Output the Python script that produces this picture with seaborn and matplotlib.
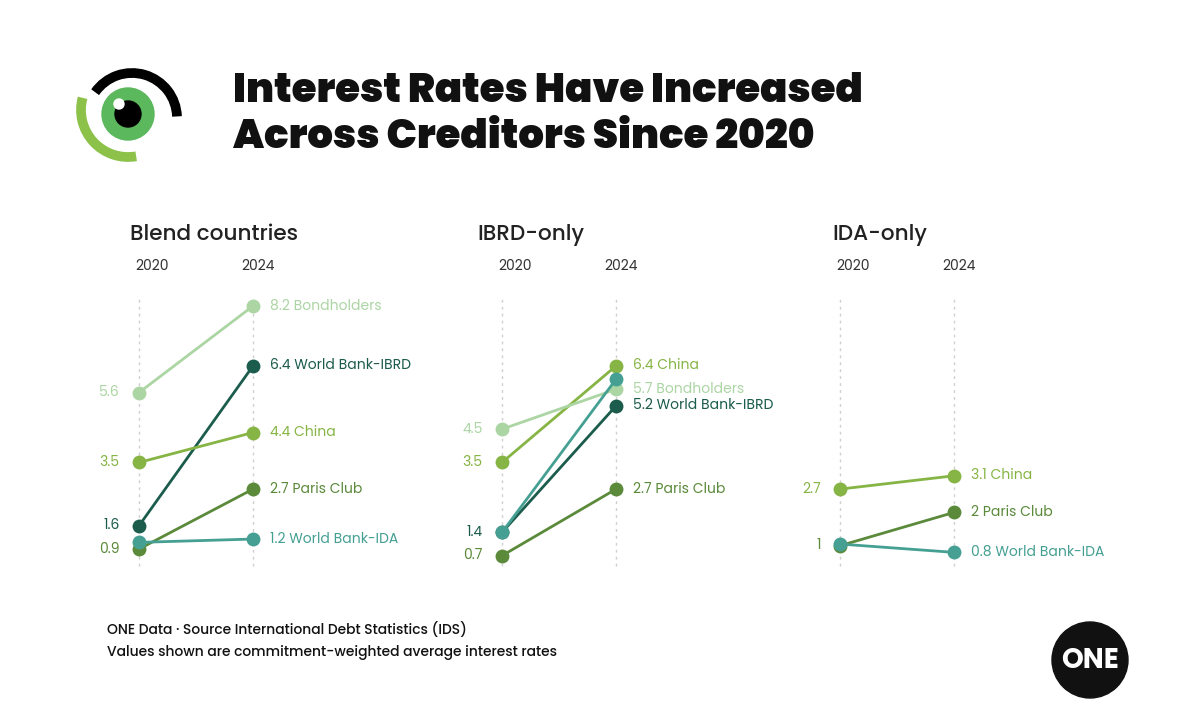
import pandas as pd
import seaborn as sns
import matplotlib.pyplot as plt
from matplotlib.patches import Circle, Arc

# --- Data ---
panels = ["Blend countries", "IBRD-only", "IDA-only"]
years = ["2020", "2024"]

blend_creditors = ["Bondholders", "World Bank-IBRD", "China", "Paris Club", "World Bank-IDA"]
blend_2020 = [5.6, 1.6, 3.5, 0.9, 1.1]
blend_2024 = [8.2, 6.4, 4.4, 2.7, 1.2]

ibrd_creditors = ["China", "Bondholders", "World Bank-IBRD", "Paris Club", "World Bank-IDA"]
ibrd_2020 = [3.5, 4.5, 1.4, 0.7, 1.4]
ibrd_2024 = [6.4, 5.7, 5.2, 2.7, 6.0]

ida_creditors = ["China", "Paris Club", "World Bank-IDA"]
ida_2020 = [2.7, 1.0, 1.05]
ida_2024 = [3.1, 2.0, 0.8]

# which values get a text label (the unlabeled ones are hidden in the original)
blend_show_2020 = [True, True, True, True, False]
ibrd_show_2020 = [True, True, True, True, False]
ibrd_show_2024 = [True, True, True, True, False]
ida_show_2020 = [True, True, False]

colors = {
    "Bondholders": "#acd5a4",
    "World Bank-IBRD": "#1b5c4c",
    "China": "#86b545",
    "Paris Club": "#5b8a3b",
    "World Bank-IDA": "#45a093",
}

panel_data = [
    (blend_creditors, blend_2020, blend_2024, blend_show_2020, [True] * 5),
    (ibrd_creditors, ibrd_2020, ibrd_2024, ibrd_show_2020, ibrd_show_2024),
    (ida_creditors, ida_2020, ida_2024, ida_show_2020, [True] * 3),
]

sns.set_theme(style="white")
plt.rcParams['font.family'] = ['Poppins', 'Lato', 'DejaVu Sans']

W, H = 1200, 723
fig = plt.figure(figsize=(12, 7.23), dpi=100)

def fx(px):
    return px / W

def fy(py):
    return 1 - py / H

x_starts = [139, 502, 840]
title_x = [130, 477, 832]
y_zero, y_top = 579, 306

for (creds, v20, v24, show20, show24), name, xs, tx in zip(panel_data, panels, x_starts, title_x):
    ax = fig.add_axes([fx(xs), fy(y_zero), fx(114), fy(y_top) - fy(y_zero)])
    ax.set_xlim(0, 1)
    ax.set_ylim(0, 8.2)
    ax.axis("off")

    df = pd.DataFrame({
        "creditor": creds * 2,
        "year": [0] * len(creds) + [1] * len(creds),
        "rate": v20 + v24,
    })
    for x in (0, 1):
        ax.plot([x, x], [0.4, 8.4], ls=(0, (2, 3)), color="#cfcfcf", lw=1, clip_on=False, zorder=0)
    sns.lineplot(data=df, x="year", y="rate", hue="creditor", palette=colors,
                 marker="o", markersize=10, markeredgewidth=0, linewidth=2,
                 legend=False, ax=ax, sort=False)
    for line in ax.lines:
        line.set_clip_on(False)

    for c, a, b, s20, s24 in zip(creds, v20, v24, show20, show24):
        col = colors[c]
        if s20:
            ax.text(-0.17, a, f"{a:g}", color=col, fontsize=10, ha="right", va="center", clip_on=False)
        if s24:
            ax.text(1.15, b, f"{b:g} {c}", color=col, fontsize=10, ha="left", va="center", clip_on=False)

    fig.text(fx(tx), fy(235), name, fontsize=15.5, color="#222222", va="center", fontweight="medium")
    fig.text(fx(xs - 4), fy(266), years[0], fontsize=10, color="#333333", va="center")
    fig.text(fx(xs + 102), fy(266), years[1], fontsize=10, color="#333333", va="center")

# --- Title ---
fig.text(fx(233), fy(92), "Interest Rates Have Increased", fontsize=29, fontweight="black",
         color="#111111", va="center")
fig.text(fx(233), fy(138), "Across Creditors Since 2020", fontsize=29, fontweight="black",
         color="#111111", va="center")

# --- Logo (eye) ---
lax = fig.add_axes([0, 0, 1, 1], zorder=-1)
lax.set_xlim(0, W)
lax.set_ylim(H, 0)
lax.axis("off")
# y axis is inverted, so angles are mirrored
lax.add_patch(Arc((132, 118), 90, 90, theta1=215, theta2=358, color="black", lw=7))
lax.add_patch(Arc((128, 110), 94, 94, theta1=80, theta2=195, color="#8cc24a", lw=7))
lax.add_patch(Circle((128, 114), 26, color="#5cb85c"))
lax.add_patch(Circle((128, 114), 13, color="black"))
lax.add_patch(Circle((119, 104), 5, color="white"))

# --- ONE badge ---
lax.add_patch(Circle((1090, 660), 38, color="#111111"))
lax.text(1090, 661, "ONE", color="white", fontsize=20, fontweight="bold", ha="center", va="center")

# --- Footer ---
fig.text(fx(107), fy(630), "ONE Data · Source International Debt Statistics (IDS)", fontsize=10,
         color="#111111", va="center", fontweight="medium")
fig.text(fx(107), fy(652), "Values shown are commitment-weighted average interest rates", fontsize=10,
         color="#111111", va="center", fontweight="medium")

fig.savefig("out.png", dpi=100, facecolor="white")
